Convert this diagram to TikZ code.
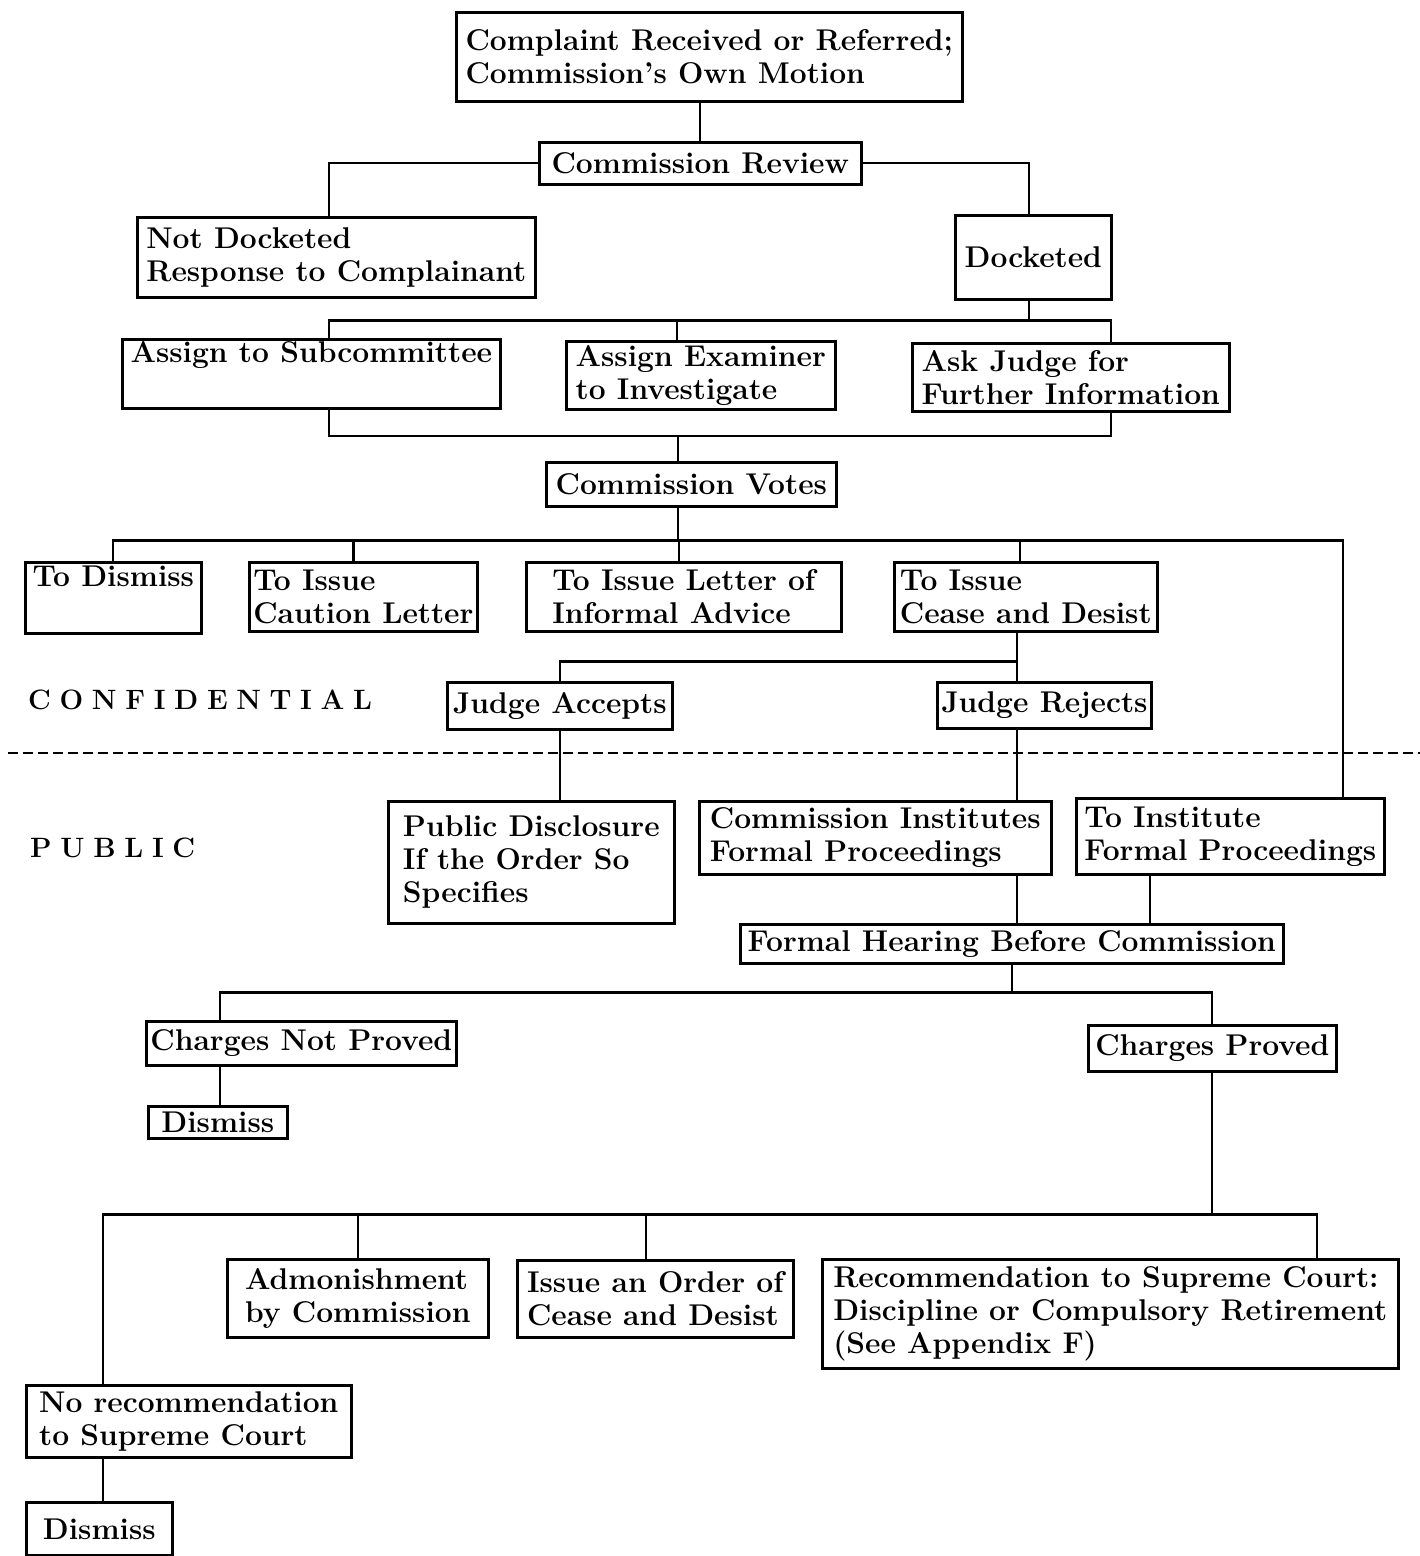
\documentclass[tikz,border=0pt]{standalone}
\usepackage{fontspec}
\setmainfont{Latin Modern Roman}
\usepackage{tikz}

\tikzset{
  box/.style={draw, line width=2.6pt, anchor=north west, align=left,
    inner xsep=4pt, inner ysep=2pt,
    font=\fontsize{30}{33}\selectfont\bfseries},
  link/.style={line width=2.3pt},
  side/.style={anchor=west, inner sep=0pt,
    font=\fontsize{28}{28}\selectfont\bfseries\addfontfeatures{LetterSpace=31}}
}

\begin{document}
\begin{tikzpicture}[x=1pt, y=-1pt]
  \useasboundingbox (0,0) rectangle (1420,1556);

  % intake
  \node[box, minimum width=506pt, minimum height=89pt] (complaint) at (455,11)
    {Complaint Received or Referred;\\Commission’s Own Motion};
  \node[box, minimum width=322pt, minimum height=42pt] (review) at (538,141)
    {Commission Review};
  \node[box, minimum width=398pt, minimum height=80pt] (notdock) at (136,216)
    {Not Docketed\\Response to Complainant};
  \node[box, minimum width=156pt, minimum height=84pt] (docketed) at (954,214)
    {Docketed};

  % investigation
  \node[box, minimum width=378pt, minimum height=69pt] (sub) at (121,338)
    {Assign to Subcommittee\\\strut};
  \node[box, minimum width=269pt, minimum height=68pt] (exam) at (565,340)
    {Assign Examiner\\to Investigate};
  \node[box, minimum width=317pt, minimum height=68pt] (ask) at (911,342)
    {Ask Judge for\\Further Information};
  \node[box, minimum width=290pt, minimum height=44pt] (votes) at (545,461)
    {Commission Votes};

  % outcomes of the vote
  \node[box, minimum width=176pt, minimum height=71pt] (todis) at (24,561)
    {To Dismiss\\\strut};
  \node[box, minimum width=225pt, minimum height=69pt] (caution) at (248,561)
    {To Issue\\Caution Letter};
  \node[box, minimum width=315pt, minimum height=69pt] (informal) at (525,561)
    {To Issue Letter of\\Informal Advice};
  \node[box, minimum width=263pt, minimum height=69pt] (cease) at (893,561)
    {To Issue\\Cease and Desist};
  \node[box, minimum width=225pt, minimum height=47pt] (acc) at (446,681)
    {Judge Accepts};
  \node[box, minimum width=212pt, minimum height=46pt] (rej) at (936,681)
    {Judge Rejects};

  \node[side] (conf) at (28,700) {CONFIDENTIAL};
  \node[side] (pub) at (30,848) {PUBLIC};
  \coordinate (dl) at (8,753);
  \coordinate (dr) at (1420,753);
  \draw[line width=2.3pt, dash pattern=on 10pt off 5pt] (dl) -- (dr);

  % public part
  \node[box, minimum width=286pt, minimum height=122pt] (disc) at (387,800)
    {Public Disclosure\\If the Order So\\Specifies};
  \node[box, minimum width=352pt, minimum height=73pt] (inst) at (698,800)
    {Commission Institutes\\Formal Proceedings};
  \node[box, minimum width=308pt, minimum height=76pt] (toinst) at (1075,797)
    {To Institute\\Formal Proceedings};
  \node[box, minimum width=543pt, minimum height=39pt] (hear) at (739,923)
    {Formal Hearing Before Commission};
  \node[box, minimum width=310pt, minimum height=44pt] (notp) at (145,1020)
    {Charges Not Proved};
  \node[box, minimum width=248pt, minimum height=46pt] (prov) at (1087,1024)
    {Charges Proved};
  \node[box, minimum width=139pt, minimum height=32pt] (dis2) at (147,1105)
    {Dismiss};

  % after charges proved
  \node[box, minimum width=261pt, minimum height=78pt] (admon) at (226,1258)
    {Admonishment\\by Commission};
  \node[box, minimum width=276pt, minimum height=77pt] (issue) at (516,1259)
    {Issue an Order of\\Cease and Desist};
  \node[box, minimum width=576pt, minimum height=109pt] (recom) at (821,1258)
    {Recommendation to Supreme Court:\\Discipline or Compulsory Retirement\\(See Appendix F)};
  \node[box, minimum width=325pt, minimum height=72pt] (norec) at (25,1384)
    {No recommendation\\to Supreme Court};
  \node[box, minimum width=146pt, minimum height=53pt] (dis3) at (25,1501)
    {Dismiss};

  % connectors
  \draw[link] (review.north) -- (review.north |- complaint.south);
  \draw[link] ([xshift=-7pt]notdock.north) |- (review.west);
  \draw[link] ([xshift=-4pt]docketed.north) |- (review.east);

  \draw[link] ([xshift=-4pt]docketed.south) -- ++(0,20) coordinate (dk);
  \draw[link] ([xshift=18pt]sub.north) |- (dk) -| ([xshift=40pt]ask.north);
  \draw[link] ([xshift=-24pt]exam.north) -- ([xshift=-24pt]exam.north |- dk);

  \draw[link] ([xshift=-13pt]votes.north) -- ++(0,-25) coordinate (vt);
  \draw[link] ([xshift=18pt]sub.south) |- (vt) -| ([xshift=40pt]ask.south);

  \draw[link] ([xshift=-13pt]votes.south) -- ++(0,33) coordinate (vb);
  \draw[link] (todis.north) |- (vb) -| ([xshift=113pt]toinst.north);
  \foreach \n/\s in {caution/-10, informal/-5, cease/-6}
    \draw[link] ([xshift=\s pt]\n.north) -- ([xshift=\s pt]\n.north |- vb);

  \draw[link] ([xshift=-9pt]cease.south) -- ++(0,29) coordinate (cs) -- (cs |- rej.north);
  \draw[link] (acc.north) |- (cs);
  \draw[link] (acc.south) -- (acc.south |- disc.north);
  \draw[link] (cs |- rej.south) -- (cs |- inst.north);
  \draw[link] (cs |- inst.south) -- (cs |- hear.north);
  \draw[link] ([xshift=-80pt]toinst.south) -- ([xshift=-80pt]toinst.south |- hear.north);

  \draw[link] (hear.south) -- ++(0,28) coordinate (hb);
  \draw[link] ([xshift=-81pt]notp.north) |- (hb) -| (prov.north);
  \draw[link] ([xshift=-81pt]notp.south) -- ([xshift=-81pt]notp.south |- dis2.north);

  \draw[link] (prov.south) -- ++(0,142) coordinate (pb);
  \draw[link] ([xshift=-86pt]norec.north) |- (pb) -| ([xshift=207pt]recom.north);
  \draw[link] (admon.north) -- (admon.north |- pb);
  \draw[link] ([xshift=-9pt]issue.north) -- ([xshift=-9pt]issue.north |- pb);
  \draw[link] ([xshift=-86pt]norec.south) -- ([xshift=-86pt]norec.south |- dis3.north);
\end{tikzpicture}
\end{document}
